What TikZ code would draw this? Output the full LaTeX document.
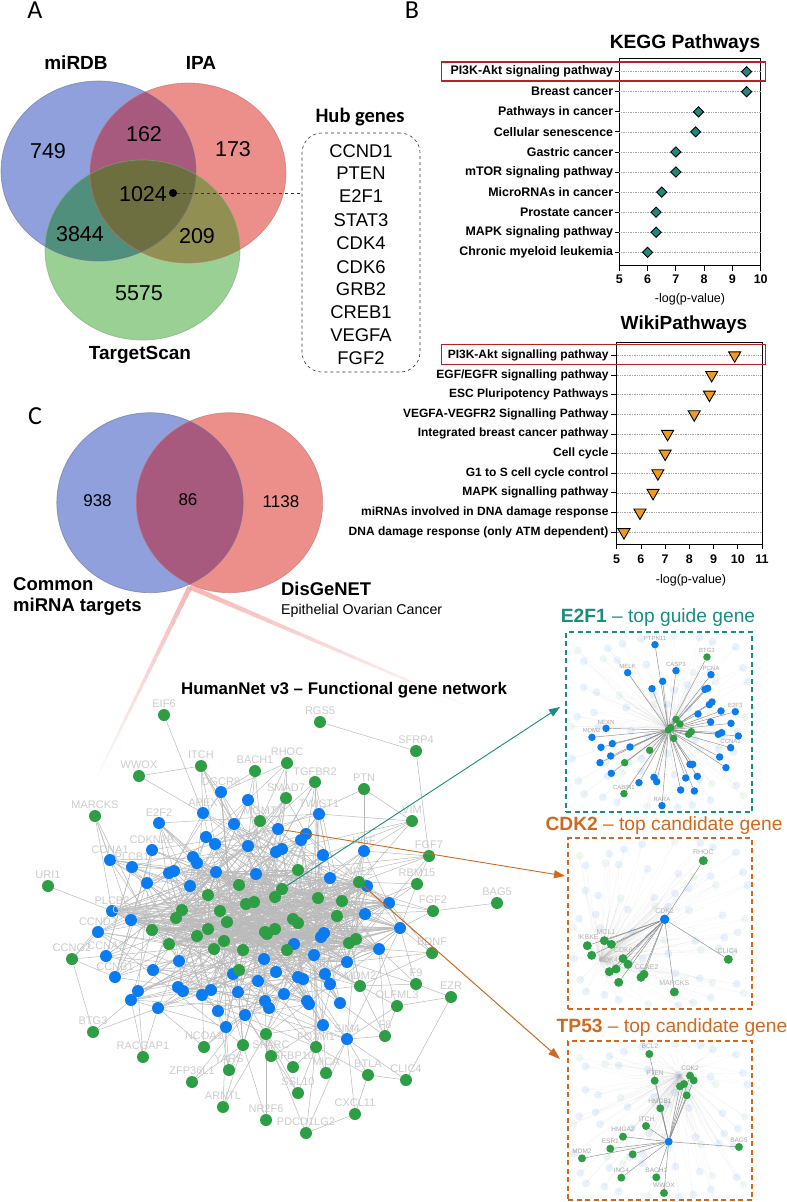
\documentclass[tikz,border=0pt]{standalone}
\usepackage{fontspec}
\setmainfont{Liberation Sans}
\newfontfamily\calfont{Carlito}
\usepackage{tikz}
\usetikzlibrary{arrows.meta}
\usetikzlibrary{shapes.geometric}
\usetikzlibrary{backgrounds}
\usetikzlibrary{calc}

\definecolor{vblue}{HTML}{8FA0DC}
\definecolor{vred}{HTML}{EC8F8B}
\definecolor{vgreen}{HTML}{9AD094}
\definecolor{vbluered}{HTML}{A85A7E}
\definecolor{vbluegreen}{HTML}{4F8F7C}
\definecolor{vredgreen}{HTML}{918F52}
\definecolor{vall}{HTML}{6E6F41}
\definecolor{tealdark}{HTML}{1A8C80}
\definecolor{orangedark}{HTML}{D0691F}
\definecolor{boxred}{HTML}{B92025}
\definecolor{diamondfill}{HTML}{1D8A80}
\definecolor{trianglefill}{HTML}{F29A1F}
\definecolor{netb}{HTML}{0A7BF0}
\definecolor{netg}{HTML}{2E9E44}
\definecolor{funnel}{HTML}{F2A8A4}

\newcommand{\fs}[1]{\fontsize{#1}{#1}\selectfont}
\newcommand{\circA}{(98.5,171) ellipse [x radius=97.5pt,y radius=90pt]}
\newcommand{\circB}{(188,173) ellipse [x radius=98pt,y radius=90pt]}
\newcommand{\circT}{(142.5,250) ellipse [x radius=97.5pt,y radius=90pt]}
\newcommand{\circL}{(150,502.7) ellipse [x radius=93.2pt,y radius=90pt]}
\newcommand{\circR}{(229.5,502.7) ellipse [x radius=93.2pt,y radius=90pt]}

% pale copy of the network behind each zoomed panel
\newcommand{\palenet}[6]{%
  \begin{pgfonlayer}{background}
  \begin{scope}
    \clip (#1,#2) rectangle ++(#3,#4);
    \foreach \i in {0,...,7}{
      \foreach \j in {0,...,7}{
        \pgfmathsetmacro\px{#1+#3*(\i+.5)/8+7*sin(\i*97+\j*61)}
        \pgfmathsetmacro\py{#2+#4*(\j+.5)/8+7*cos(\i*43+\j*131)}
        \pgfmathsetmacro\qx{#5+(\px-#5)*.5+9*sin(\i*31+\j*17)}
        \pgfmathsetmacro\qy{#6+(\py-#6)*.5+9*cos(\i*71+\j*23)}
        \pgfmathtruncatemacro\cc{mod(\i*3+\j*5,4)}
        \draw[gray!60,line width=.3,opacity=.15] (#5,#6) -- (\px,\py);
        \draw[gray!60,line width=.5,opacity=.2] (#5,#6) -- (\qx,\qy);
        \draw[gray!60,line width=.4,opacity=.12] (\qx,\qy) -- (\px,\py);
        \ifnum\cc=0
          \fill[netg,opacity=.08] (\px,\py) circle (4pt);
        \else
          \fill[netb,opacity=.10] (\px,\py) circle (4pt);
        \fi
      }
    }
  \end{scope}
  \end{pgfonlayer}%
}

\tikzset{
  vennlabel/.style={font=\bfseries\fs{19}},
  vennnum/.style={font=\fs{21.5}},
  gene/.style={circle,fill=net#1,minimum size=12,inner sep=0},
  genelabel/.style={font=\fs{11},text=black!20,inner sep=.5},
  netedge/.style={draw=black!27,line width=.5},
  hubgene/.style={font=\fs{18.4}},
  pathlabel/.style={font=\bfseries\fs{#1},anchor=east,inner sep=0},
  ticklabel/.style={font=\bfseries\fs{12.5},inner sep=0},
  rowline/.style={draw=black!35,line width=.5,dash pattern=on 1pt off .7pt},
  kegg/.style={diamond,draw=black,line width=.9,fill=diamondfill,minimum size=10.5,inner sep=0},
  wiki/.style={regular polygon,regular polygon sides=3,shape border rotate=180,draw=black,line width=.9,fill=trianglefill,minimum size=14,inner sep=0},
  panelbox/.style={draw=#1,dash pattern=on 5pt off 3.5pt,line width=1.4,inner sep=0,outer sep=0},
  paneltitle/.style={text=#1,font=\fs{19.2},inner sep=0},
  tinylabel/.style={font=\fs{6},text=black!35,inner sep=.5},
  spoke/.style={draw=black!45,line width=.45},
}

\begin{document}
\begin{tikzpicture}[x=1pt,y=-1pt]
    \useasboundingbox (0,0) rectangle (787,1202);

    % panel letters
    \node[font=\calfont\fs{26}] (letterA) at (35,10) {A};
    \node[font=\calfont\fs{26}] (letterB) at (412,10) {B};
    \node[font=\calfont\fs{26}] (letterC) at (35,416) {C};

    % three set Venn
    \fill[vblue] \circA;
    \fill[vred] \circB;
    \fill[vgreen] \circT;
    \begin{scope}
        \clip \circA;
        \fill[vbluered] \circB;
        \fill[vbluegreen] \circT;
    \end{scope}
    \begin{scope}
        \clip \circB;
        \fill[vredgreen] \circT;
        \clip \circA;
        \fill[vall] \circT;
    \end{scope}
    \draw[draw=vblue!70!black,line width=.7,opacity=.6] \circA;
    \draw[draw=vred!80!black,line width=.7,opacity=.6] \circB;
    \draw[draw=vgreen!80!black,line width=.7,opacity=.6] \circT;

    \node[vennlabel] (mirdb) at (76,63) {miRDB};
    \node[vennlabel] (ipa) at (201,63) {IPA};
    \node[vennlabel] (targetscan) at (140,355) {TargetScan};
    \node[vennnum] (n749) at (48,151) {749};
    \node[vennnum] (n162) at (144,134) {162};
    \node[vennnum] (n173) at (233,149) {173};
    \node[vennnum] (n1024) at (143,194) {1024};
    \node[vennnum] (n3844) at (80,234) {3844};
    \node[vennnum] (n209) at (197,236) {209};
    \node[vennnum] (n5575) at (139,293) {5575};

    % hub genes
    \node[circle,fill=black,minimum size=8,inner sep=0] (hubdot) at (173,193) {};
    \node[draw=black!80,dashed,rounded corners=20,line width=.6,minimum width=118,minimum height=239,inner sep=0] (hubbox) at (361,252.5) {};
    \draw[draw=black!80,dashed,line width=.6] (hubdot) -- (hubdot -| hubbox.west);
    \node[font=\calfont\bfseries\fs{20.5}] (hubtitle) at (360,117) {Hub genes};
    \foreach \g/\y [count=\i] in {CCND1/151,PTEN/173,E2F1/196,STAT3/220,CDK4/243,CDK6/267,GRB2/289,CREB1/312,VEGFA/335,FGF2/358}
        \node[hubgene] (hub\i) at (361,\y) {\g};

    % KEGG chart
    \node[font=\bfseries\fs{19.2}] (keggtitle) at (685,44) {KEGG Pathways};
    \draw[line width=.8] (619.3,58.7) rectangle (760.7,265.3);
    \foreach \v/\t [count=\i] in {9.5/{PI3K-Akt signaling pathway},9.5/{Breast cancer},7.8/{Pathways in cancer},7.7/{Cellular senescence},7.0/{Gastric cancer},7.0/{mTOR signaling pathway},6.5/{MicroRNAs in cancer},6.3/{Prostate cancer},6.3/{MAPK signaling pathway},6.0/{Chronic myeloid leukemia}}{
        \draw[rowline] (619.3,{51.6+20.07*\i}) -- (760.7,{51.6+20.07*\i});
        \draw[line width=.8] (615.3,{51.6+20.07*\i}) -- (619.3,{51.6+20.07*\i});
        \node[pathlabel=12.4] (keggl\i) at (613.3,{51.6+20.07*\i}) {\t};
        \node[kegg] (keggd\i) at ({619.3+(\v-5)*28.28},{51.6+20.07*\i}) {};
    }
    \foreach \v in {5,...,10}{
        \draw[line width=.8] ({619.3+(\v-5)*28.28},265.3) -- ({619.3+(\v-5)*28.28},271);
        \node[ticklabel] (keggt\v) at ({619.3+(\v-5)*28.28},279) {\v};
    }
    \node[font=\fs{12.5}] (keggx) at (690,299) {-log(p-value)};
    \draw[boxred,line width=1.5] (441.7,62) rectangle (765.3,81);

    % WikiPathways chart
    \node[font=\bfseries\fs{19}] (wikititle) at (684,325) {WikiPathways};
    \draw[line width=.8] (616.7,342.7) rectangle (762,544.3);
    \foreach \v/\t [count=\i] in {9.87/{PI3K-Akt signalling pathway},8.92/{EGF/EGFR signalling pathway},8.83/{ESC Pluripotency Pathways},8.2/{VEGFA-VEGFR2 Signalling Pathway},7.1/{Integrated breast cancer pathway},7.0/{Cell cycle},6.7/{G1 to S cell cycle control},6.5/{MAPK signalling pathway},5.96/{miRNAs involved in DNA damage response},5.3/{DNA damage response (only ATM dependent)}}{
        \draw[rowline] (616.7,{335.65+19.65*\i}) -- (762,{335.65+19.65*\i});
        \draw[line width=.8] (611.3,{335.65+19.65*\i}) -- (616.7,{335.65+19.65*\i});
        \node[pathlabel=12] (wikil\i) at (608.7,{335.65+19.65*\i}) {\t};
        \node[wiki] (wikid\i) at ({616.7+(\v-5)*24.22},{335.65+19.65*\i}) {};
    }
    \foreach \v in {5,...,11}{
        \draw[line width=.8] ({616.7+(\v-5)*24.22},544.3) -- ({616.7+(\v-5)*24.22},549);
        \node[ticklabel] (wikit\v) at ({616.7+(\v-5)*24.22},559) {\v};
    }
    \node[font=\fs{12.5}] (wikix) at (691,580) {-log(p-value)};
    \draw[boxred,line width=1.5] (441.7,344.7) rectangle (765.3,364.3);

    % two set Venn
    \fill[vblue] \circL;
    \fill[vred] \circR;
    \begin{scope}
        \clip \circL;
        \fill[vbluered] \circR;
    \end{scope}
    \draw[draw=vblue!70!black,line width=.7,opacity=.6] \circL;
    \draw[draw=vred!80!black,line width=.7,opacity=.6] \circR;
    \node[font=\fs{17}] (c938) at (97.5,501) {938};
    \node[font=\fs{17}] (c86) at (188,500) {86};
    \node[font=\fs{17}] (c1138) at (281,502) {1138};
    \node[font=\bfseries\fs{18.5},anchor=west,inner sep=0] (common) at (13,584) {Common};
    \node[font=\bfseries\fs{18.5},anchor=west,inner sep=0] (mirna) at (13,607) {miRNA targets};
    \node[font=\bfseries\fs{18.4},anchor=west,inner sep=0] (disgenet) at (281,589) {DisGeNET};
    \node[font=\fs{14.2},anchor=west,inner sep=0] (epithelial) at (281,611) {Epithelial Ovarian Cancer};

    % fading funnel from the overlap to the network
    \coordinate (apex) at (190,587);
    \coordinate (funnelleft) at (97,777);
    \coordinate (funnelright) at (465,705);
    \foreach \t in {0,...,19}{
        \pgfmathsetmacro\ta{\t/20}
        \pgfmathsetmacro\tb{(\t+1)/20}
        \pgfmathsetmacro\op{.75*(1-\t/20)+.04}
        \pgfmathsetmacro\lw{5-3.5*\t/20}
        \draw[funnel,opacity=\op,line width=\lw] ($(apex)!\ta!(funnelleft)$) -- ($(apex)!\tb!(funnelleft)$);
        \draw[funnel,opacity=\op,line width=\lw] ($(apex)!\ta!(funnelright)$) -- ($(apex)!\tb!(funnelright)$);
    }

    \node[font=\bfseries\fs{16.9}] (nettitle) at (344,690) {HumanNet v3 – Functional gene network};

    % network, inner nodes
    \foreach \x/\y/\c [count=\i] in {
        221/792/b,248/800/b,286/798/g,315/782/g,203/813/b,319/814/b,234/824/b,260/821/g,278/829/b,206/837/b,
        215/844/b,248/846/b,306/834/b,301/840/b,282/849/b,276/852/b,323/855/b,193/857/b,197/863/b,364/851/b,
        152/850/b,159/823/b,110/860/b,132/867/b,147/883/b,174/871/b,169/873/b,190/886/b,216/872/b,256/874/b,
        239/885/g,208/895/g,246/904/g,254/902/g,298/870/g,330/878/b,367/886/b,359/882/g,282/889/g,275/897/g,
        318/898/g,342/901/g,389/903/b,112/911/b,131/920/b,182/910/g,176/918/g,220/911/g,227/922/g,152/930/g,
        208/929/g,197/936/g,169/944/g,224/941/g,214/949/g,243/950/g,265/932/g,275/929/g,267/934/g,293/919/g,
        298/923/g,337/916/g,365/914/b,400/928/b,324/933/b,321/937/b,356/939/g,349/943/g,294/944/b,287/950/g,
        379/949/b,314/955/b,264/959/b,347/962/b,98/932/b,106/956/b,179/961/b,153/970/b,115/977/b,233/974/b,
        239/970/g,276/972/b,258/981/b,298/977/b,303/979/b,325/974/b,330/984/b,360/986/g,138/991/b,131/1000/b,
        178/987/b,183/991/b,202/995/b,211/990/b,238/992/b,284/994/b,265/1001/b,269/1008/b,307/1001/b,309/1004/b,
        340/1003/b,158/1008/b,218/1011/b,245/1015/b,323/1025/b,226/1027/b,266/1034/g,347/1039/b,243/1045/g,316/1047/g}
        \node[gene=\c] (n\i) at (\x,\y) {};

    % network, outer nodes
    \foreach \x/\y/\t in {
        164/715/EIF6,201/766/ITCH,139/776/WWOX,255/771/BACH1,95/816/MARCKS,48/886/URI1,
        320/722/RGS5,416/751/SFRP4,287/763/RHOC,364/789/PTN,412/821/VIM,429/856/FGF7,
        417/884/RBM15,497/903/BAG5,433/911/FGF2,432/953/BDNF,416/984/F9,451/997/EZR,
        397/1006/OLFML3,385/1036/F8,368/1075/BTLA,406/1080/CLIC4,355/1114/CXCL11,
        306/1133/PDCD1LG2,266/1120/NR2F6,223/1107/ARNTL,192/1082/ZFP36L1,229/1070/YARS,
        204/1047/NCOA1,143/1057/RACGAP1,93/1032/BTG3,298/1093/SSL10,293/1067/GFBP10,
        326/1073/MICA,271/1056/SPARC,72/959/CCNG2}
        \node[gene=g,label={[genelabel,label distance=.5]above:\t}] (\t) at (\x,\y) {};

    % labels of inner nodes
    \foreach \i/\t in {1/DGCR8,3/SMAD7,4/TGFBR2,5/APEX,6/TWIST1,8/MGMT,20/HGF,21/CDKN2B,22/E2F2,23/CCNA1,24/PLCB1,38/NFE2,44/PLCB2,45/CCNB2,75/CCND3,76/CCNA2,79/CCNB1,88/MDM2,108/SIM4,110/FOXM1}
        \node[genelabel,anchor=south] (lab\i) at (n\i.north) {\t};

    % network edges
    \begin{pgfonlayer}{background}
    \foreach \a in {1,...,110}{
        \foreach \k in {3,13,19,47}{
            \pgfmathtruncatemacro\b{mod(\a*\k+\k,110)+1}
            \ifnum\a=\b\else\draw[netedge] (n\a) -- (n\b);\fi
        }
    }
    \foreach \a in {29,...,74}{
        \foreach \k in {5,11,17,23,29,37,41,43,7,31}{
            \pgfmathtruncatemacro\b{29+mod(\a*\k,46)}
            \ifnum\a=\b\else\draw[netedge] (n\a) -- (n\b);\fi
        }
    }
    \foreach \s/\l in {
        EIF6/{5},ITCH/{1,5,7,11,12,30},WWOX/{5},BACH1/{1,2,8,12},RHOC/{3,2,9,8,1},
        MARCKS/{23,44,45,50},URI1/{44},PTN/{9,20},VIM/{6,20,17,38,16},FGF7/{20,38,43,36,30},
        RBM15/{38,43,64,62},FGF2/{64,63,43,36},BDNF/{64,71,74,43,88},F9/{71,88,74,64},OLFML3/{88,71,108},
        F8/{108,101,88,71},BTLA/{108,110},CLIC4/{108},CXCL11/{108},
        PDCD1LG2/{108,110,107},NR2F6/{109,107},ARNTL/{106,107,109},ZFP36L1/{109,104},YARS/{109,106,103},
        NCOA1/{102,106,104,93},RACGAP1/{89,90,102},BTG3/{90,102},SSL10/{110,107,104},GFBP10/{110,107},
        MICA/{108,110,105},SPARC/{107,105,104},CCNG2/{75,76,79,44}}{
        \foreach \b in \l {\draw[netedge] (\s) -- (n\b);}
    }
    \foreach \a/\b in {WWOX/ITCH,RGS5/SFRP4,SFRP4/FGF7,PTN/VIM,BAG5/FGF2,EZR/CLIC4,EZR/OLFML3,F8/OLFML3,BTLA/CLIC4,CXCL11/PDCD1LG2,BTLA/CXCL11,FGF7/RBM15,F9/EZR,CCNG2/BTG3}
        \draw[netedge] (\a) -- (\b);
    \end{pgfonlayer}

    % zoomed panels
    \node[paneltitle=tealdark] (titleE) at (658,618) {\textbf{E2F1} – top guide gene};
    \node[paneltitle=orangedark] (titleC) at (664,826) {\textbf{CDK2} – top candidate gene};
    \node[paneltitle=orangedark] (titleT) at (672,1028) {\textbf{TP53} – top candidate gene};
    \palenet{566}{632}{186}{180}{668}{728}
    \palenet{568}{838}{184}{171}{600}{960}
    \palenet{568}{1041}{184}{159}{680}{1075}
    \node[panelbox=tealdark,minimum width=186,minimum height=180] (panelE) at (659,722) {};
    \node[panelbox=orangedark,minimum width=184,minimum height=171] (panelC) at (660,923.5) {};
    \node[panelbox=orangedark,minimum width=184,minimum height=159] (panelT) at (660,1120.5) {};

    \begin{scope}[shift={(540,600)},x=.3333pt,y=-.3333pt]
        \node[gene=g,minimum size=7.5] (hubE) at (385,390) {};
        \foreach \x/\y/\c [count=\i] in {
            345/134/b,263/218/b,408/212/b,368/244/b,336/266/b,513/224/b,503/265/b,495/268/b,516/306/b,508/314/b,
            543/333/b,586/335/b,474/342/b,512/366/b,573/370/b,198/385/b,156/412/b,217/431/b,183/442/b,270/441/b,
            212/468/b,180/488/b,214/520/b,535/403/b,545/398/b,595/408/b,572/443/b,539/471/b,558/503/b,450/493/b,
            458/493/b,472/529/b,437/534/b,342/532/b,350/545/b,297/548/b,422/570/b,463/573/b,366/617/b,501/171/g,
            408/358/g,420/372/g,392/383/g,401/415/g,446/403/g,454/395/g,329/451/g,254/488/g,252/581/g}{
            \node[gene=\c,minimum size=7.5] (pe\i) at (\x,\y) {};
            \begin{pgfonlayer}{background}
                \draw[spoke] (hubE) -- (pe\i);
            \end{pgfonlayer}
        }
        \foreach \x/\y/\t [count=\i] in {345/115/PTPN11,501/152/BTG3,408/192/CASP3,263/198/MELK,513/205/PCNA,586/316/E2F3,572/424/CCNA1,252/562/CABIN1,366/597/RARA,198/366/NEXN,155/392/MDM2}
            \node[tinylabel] (le\i) at (\x,\y) {\t};
    \end{scope}

    \begin{scope}[shift={(540,815)},x=.3333pt,y=-.3333pt]
        \node[gene=b,minimum size=9.5] (hubC) at (374,313) {};
        \foreach \x/\y [count=\i] in {490/137,565/433,403/531,142/392,155/421,193/377,214/388,249/431,264/448,228/462,208/470,236/502,312/478,303/487}{
            \node[gene=g,minimum size=9] (pc\i) at (\x,\y) {};
            \begin{pgfonlayer}{background}
                \draw[spoke] (hubC) -- (pc\i);
            \end{pgfonlayer}
        }
        \foreach \x/\y/\t [count=\i] in {374/288/CDK2,490/111/RHOC,563/408/CLIC4,403/505/MARCKS,145/366/IKBKE,198/352/MCL1,250/404/CDK6,205/435/CDK4,320/456/CCNE2}
            \node[tinylabel,font=\fs{7},text=black!30] (lc\i) at (\x,\y) {\t};
    \end{scope}

    \begin{scope}[shift={(540,1015)},x=.3333pt,y=-.3333pt]
        \node[gene=b,minimum size=8] (hubT) at (386,380) {};
        \foreach \x/\y [count=\i] in {328/117,344/197,450/182,461/196,432/207,420/214,440/241,361/280,318/333,249/365,211/401,126/430,278/418,244/488,349/487,372/534,597/396}{
            \node[gene=g,minimum size=8] (pt\i) at (\x,\y) {};
            \begin{pgfonlayer}{background}
                \draw[spoke] (hubT) -- (pt\i);
            \end{pgfonlayer}
        }
        \foreach \x/\y/\t [count=\i] in {330/95/BCL2,345/175/PTEN,450/160/CDK2,360/258/HMGB1,320/312/ITCH,249/343/HMGA2,211/380/ESR1,126/408/MDM2,244/467/ING4,349/467/BACH1,372/512/WWOX,597/375/BAG5}
            \node[tinylabel,font=\fs{6.5}] (lt\i) at (\x,\y) {\t};
    \end{scope}

    % arrows to the panels
    \coordinate (tipE) at (560,707);
    \coordinate (tipC) at (565,876);
    \coordinate (tipT) at (560,1059);
    \draw[tealdark,line width=.9,-{Triangle[length=11pt,width=8pt]}] (n39) -- (tipE);
    \draw[orangedark,line width=.9,-{Triangle[length=11pt,width=8pt]}] (n9) -- (tipC);
    \draw[orangedark,line width=1,-{Triangle[length=12pt,width=8pt]}] (n38) -- (tipT);
\end{tikzpicture}
\end{document}
